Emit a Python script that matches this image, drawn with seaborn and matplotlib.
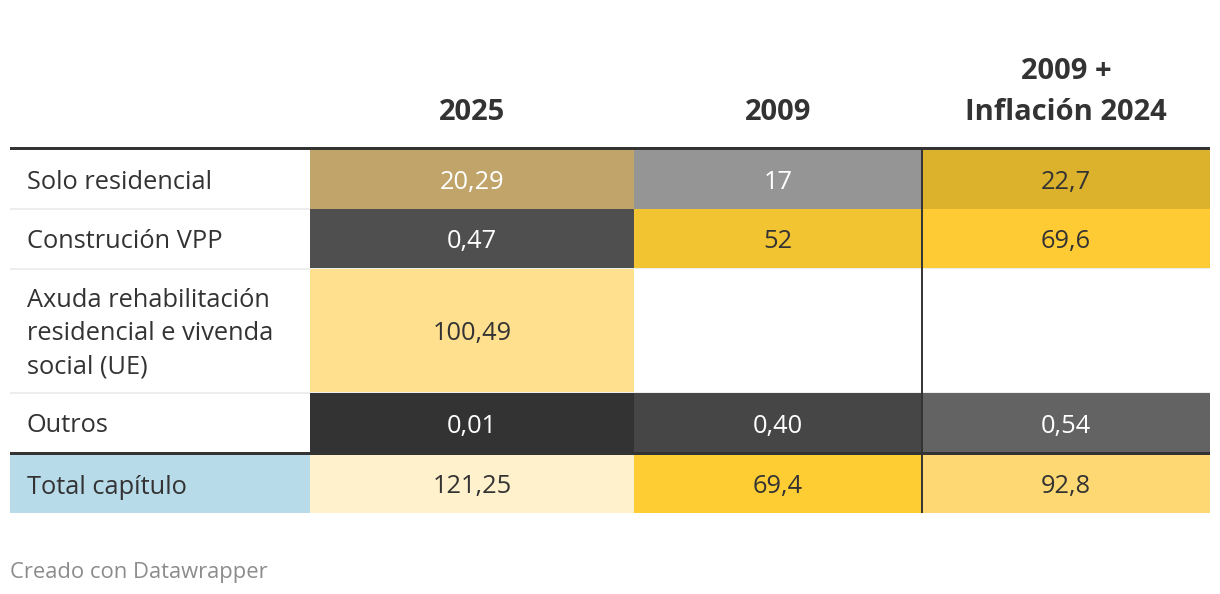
import matplotlib
matplotlib.use("Agg")
import matplotlib.pyplot as plt
import matplotlib.colors as mcolors
import seaborn as sns

# datos da táboa
rows = ["Solo residencial", "Construción VPP",
        "Axuda rehabilitación\nresidencial e vivenda\nsocial (UE)",
        "Outros", "Total capítulo"]
col_2025 = ["20,29", "0,47", "100,49", "0,01", "121,25"]
col_2009 = ["17", "52", "", "0,40", "69,4"]
col_infl = ["22,7", "69,6", "", "0,54", "92,8"]
header_lines = [["2025"], ["2009"], ["2009 +", "Inflación 2024"]]
footer = "Creado con Datawrapper"

# cores das celas (escala por columna, como en Datawrapper)
colors_2025 = ["#c0a46a", "#4f4f4f", "#fee08f", "#333333", "#fff1cc"]
colors_2009 = ["#959595", "#f3c431", "#ffffff", "#464646", "#fecd34"]
colors_infl = ["#dcb22c", "#fecb35", "#ffffff", "#636363", "#fed973"]
label_bg = ["#ffffff", "#ffffff", "#ffffff", "#ffffff", "#b8dbea"]

sns.set_theme(style="white")
plt.rcParams['font.family'] = ['Open Sans', 'DejaVu Sans']

W, H = 1220, 594
fig = plt.figure(figsize=(W / 100, H / 100), dpi=100, facecolor='white')
ax = fig.add_axes([0, 0, 1, 1])
ax.set_xlim(0, W)
ax.set_ylim(H, 0)
ax.axis('off')

# xeometría (px)
col_edges = [10, 310, 634, 922, 1210]
row_edges = [150, 209, 269, 393, 453, 513]
dark = "#333333"
text_shift = 3  # o texto de Datawrapper queda algo máis baixo

# separadores de fila
for y in row_edges[1:4]:
    ax.fill_between([col_edges[0], col_edges[-1]], y - 1, y + 1, color="#eeeeee", lw=0)

columns = [(col_2025, colors_2025), (col_2009, colors_2009), (col_infl, colors_infl)]
for r, label in enumerate(rows):
    top = row_edges[r] + (2 if r == 4 else 0)
    bottom = row_edges[r + 1] - (1 if r in (1, 2) else 0)
    if r == 3:
        bottom = row_edges[4]
    h = bottom - top
    yc = top + h / 2
    # columna de etiquetas
    if label_bg[r] != "#ffffff":
        ax.barh(yc, col_edges[1] - col_edges[0], left=col_edges[0], height=h,
                color=label_bg[r], linewidth=0)
    ax.text(27, yc + text_shift, label, ha='left', va='center', fontsize=18.3,
            color=dark, linespacing=1.43)
    for c, (vals, cols) in enumerate(columns):
        left = col_edges[c + 1]
        width = col_edges[c + 2] - left
        ax.barh(yc, width, left=left, height=h + 0.6, color=cols[r], linewidth=0)
        if vals[r]:
            lum = sum(w * v for w, v in zip((0.299, 0.587, 0.114), mcolors.to_rgb(cols[r])))
            tcol = "white" if lum < 0.67 else dark
            ax.text(left + width / 2, yc + text_shift, vals[r], ha='center', va='center',
                    fontsize=18.3, color=tcol)

# liñas grosas
ax.fill_between([col_edges[0], col_edges[-1]], 147, 150, color=dark, lw=0)
ax.fill_between([col_edges[0], col_edges[-1]], 452, 455, color=dark, lw=0)
ax.vlines(col_edges[3], row_edges[0], row_edges[-1], color=dark, lw=1.4)

# cabeceiras
for c, lines in enumerate(header_lines):
    xc = (col_edges[c + 1] + col_edges[c + 2]) / 2
    for i, line in enumerate(reversed(lines)):
        ax.text(xc, 120 - 41 * i, line, ha='center', va='baseline',
                fontsize=21, fontweight='bold', color=dark)

ax.text(10, 578, footer, ha='left', va='baseline', fontsize=15.8, color="#8c8c8c")

plt.savefig("out.png", dpi=100, facecolor='white')
